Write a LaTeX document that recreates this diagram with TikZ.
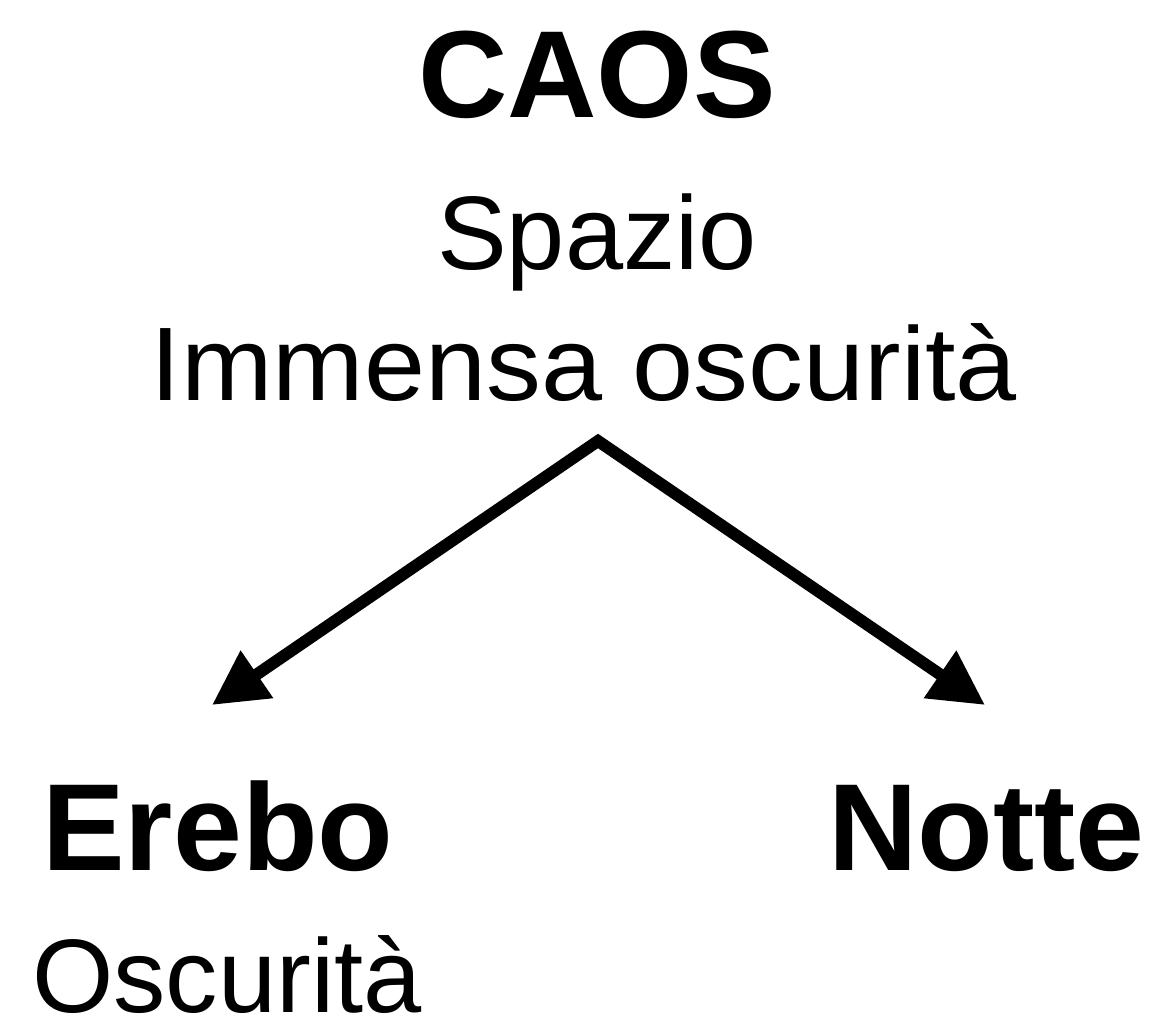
\documentclass[tikz,border=0pt]{standalone}
\usepackage{fontspec}
\setmainfont{Liberation Sans}
\usetikzlibrary{arrows.meta}
\begin{document}
\begin{tikzpicture}[x=0.02cm,y=-0.02cm,
  big/.style={font=\fontsize{70.5}{72}\selectfont\bfseries, inner sep=0pt},
  reg/.style={font=\fontsize{59.5}{62}\selectfont, inner sep=0pt},
  conn/.style={line width=6.8pt, line join=miter, {Triangle[length=31pt,width=31pt]}-{Triangle[length=31pt,width=31pt]}}]
\useasboundingbox (0,0) rectangle (1153,1027);
\node[big, anchor=base] (caos) at (597,118) {CAOS};
\node[reg, anchor=base] (spazio) at (597,270) {Spazio};
\node[reg, anchor=base, xscale=1.05] (immensa) at (584,400) {Immensa oscurità};
\node[big, anchor=base west] (erebo) at (42,870) {Erebo};
\node[big, anchor=base east] (notte) at (1145,870) {Notte};
\node[reg, anchor=base west, text depth=0pt] (oscurita) at (32,1012) {Oscurità};
\coordinate (apex) at (598,441);
\coordinate (ltip) at (212,705);
\coordinate (rtip) at (985,705);
\draw[conn] (ltip) -- (apex) -- (rtip);
\end{tikzpicture}
\end{document}
